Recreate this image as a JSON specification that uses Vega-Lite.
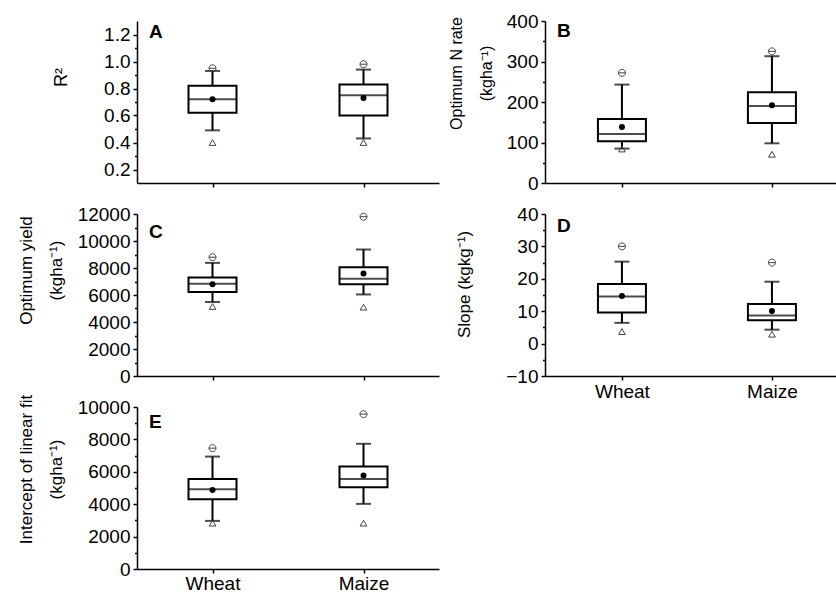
{
  "$schema": "https://vega.github.io/schema/vega-lite/v6.json",
  "padding": {"left": 16, "top": 12, "right": 0, "bottom": 0},
  "background": "white",
  "data": {"values": [
    {"panel": "A", "crop": "Wheat", "lo": 0.49, "q1": 0.62, "med": 0.72, "q3": 0.82, "hi": 0.93, "mean": 0.72, "min": 0.40, "max": 0.95},
    {"panel": "A", "crop": "Maize", "lo": 0.43, "q1": 0.60, "med": 0.75, "q3": 0.83, "hi": 0.94, "mean": 0.73, "min": 0.40, "max": 0.98},
    {"panel": "B", "crop": "Wheat", "lo": 85, "q1": 103, "med": 121, "q3": 158, "hi": 243, "mean": 138, "min": 84, "max": 272},
    {"panel": "B", "crop": "Maize", "lo": 98, "q1": 148, "med": 190, "q3": 224, "hi": 313, "mean": 192, "min": 71, "max": 325},
    {"panel": "C", "crop": "Wheat", "lo": 5480, "q1": 6220, "med": 6840, "q3": 7290, "hi": 8380, "mean": 6800, "min": 5150, "max": 8800},
    {"panel": "C", "crop": "Maize", "lo": 6040, "q1": 6790, "med": 7210, "q3": 8050, "hi": 9370, "mean": 7600, "min": 5100, "max": 11800},
    {"panel": "D", "crop": "Wheat", "lo": 6.4, "q1": 9.6, "med": 14.5, "q3": 18.4, "hi": 25.3, "mean": 14.7, "min": 3.7, "max": 30},
    {"panel": "D", "crop": "Maize", "lo": 4.3, "q1": 7.2, "med": 8.7, "q3": 12.2, "hi": 19.1, "mean": 10.1, "min": 2.9, "max": 25},
    {"panel": "E", "crop": "Wheat", "lo": 2970, "q1": 4310, "med": 4930, "q3": 5560, "hi": 6940, "mean": 4880, "min": 2830, "max": 7460},
    {"panel": "E", "crop": "Maize", "lo": 4020, "q1": 5050, "med": 5550, "q3": 6320, "hi": 7730, "mean": 5770, "min": 2830, "max": 9560}
  ]},
  "columns": 2,
  "bounds": "flush",
  "spacing": {"row": 31, "column": 106},
  "concat": [
    {
      "width": 302, "height": 162,
      "title": {"text": "A", "anchor": "start", "frame": "group", "dx": 12, "offset": 0, "dy": 36, "baseline": "alphabetic", "fontSize": 19, "fontWeight": "bold"},
      "transform": [{"filter": "datum.panel === 'A'"}],
      "encoding": {"x": {"field": "crop", "type": "nominal", "sort": ["Wheat", "Maize"], "scale": {"type": "point", "padding": 0.5}, "axis": {"title": null, "labels": false}}},
      "layer": [
        {"layer": [
          {"mark": {"type": "rule", "strokeWidth": 2, "color": "black"}, "encoding": {"y": {"field": "lo", "type": "quantitative", "scale": {"domain": [0.1, 1.3], "nice": false, "zero": false}, "axis": {"title": "R²", "titleFontSize": 18, "titleX": -67, "titleY": 56, "values": [0.2, 0.4, 0.6, 0.8, 1.0, 1.2], "tickCount": 50, "format": ".1f", "labelOverlap": false}}, "y2": {"field": "hi"}}},
          {"mark": {"type": "bar", "size": 48, "fill": "white", "stroke": "black", "strokeWidth": 2}, "encoding": {"y": {"field": "q1", "type": "quantitative"}, "y2": {"field": "q3"}}},
          {"mark": {"type": "tick", "size": 48, "thickness": 2, "color": "black"}, "encoding": {"y": {"field": "med", "type": "quantitative"}}},
          {"mark": {"type": "tick", "size": 15, "thickness": 2, "color": "black"}, "encoding": {"y": {"field": "lo", "type": "quantitative"}}},
          {"mark": {"type": "tick", "size": 15, "thickness": 2, "color": "black"}, "encoding": {"y": {"field": "hi", "type": "quantitative"}}},
          {"mark": {"type": "point", "filled": true, "color": "black", "size": 36, "opacity": 1}, "encoding": {"y": {"field": "mean", "type": "quantitative"}}},
          {"mark": {"type": "point", "shape": "M-1,0A1,1 0 1,1 1,0A1,1 0 1,1 -1,0ZM-1,0L1,0", "filled": false, "color": "#444", "size": 49, "strokeWidth": 1, "opacity": 1}, "encoding": {"y": {"field": "max", "type": "quantitative"}}},
          {"mark": {"type": "point", "shape": "triangle-up", "filled": false, "color": "#444", "size": 45, "strokeWidth": 1, "opacity": 1}, "encoding": {"y": {"field": "min", "type": "quantitative"}}}
        ]},
        {"mark": {"type": "point", "opacity": 0}, "encoding": {"y": {"field": "med", "type": "quantitative", "axis": {"orient": "left", "values": [0.3, 0.5, 0.7, 0.9, 1.1], "tickCount": 50, "labels": false, "domain": false, "tickSize": 2.5, "title": null}}}}
      ],
      "resolve": {"axis": {"y": "independent"}}
    },
    {
      "width": 293, "height": 162,
      "title": {"text": "B", "anchor": "start", "frame": "group", "dx": 12, "offset": 0, "dy": 44, "baseline": "alphabetic", "fontSize": 19, "fontWeight": "bold"},
      "transform": [{"filter": "datum.panel === 'B'"}],
      "encoding": {"x": {"field": "crop", "type": "nominal", "sort": ["Wheat", "Maize"], "scale": {"type": "point", "padding": 0.4767, "align": 0.538}, "axis": {"title": null, "labels": false}}},
      "layer": [
        {"layer": [
          {"mark": {"type": "rule", "strokeWidth": 2, "color": "black"}, "encoding": {"y": {"field": "lo", "type": "quantitative", "scale": {"domain": [0, 400], "nice": false, "zero": false}, "axis": {"title": ["Optimum N rate", "(kgha⁻¹)"], "titleFontSize": 16, "titleX": -81, "titleY": 52, "values": [0, 100, 200, 300, 400], "tickCount": 50, "labelOverlap": false}}, "y2": {"field": "hi"}}},
          {"mark": {"type": "bar", "size": 48, "fill": "white", "stroke": "black", "strokeWidth": 2}, "encoding": {"y": {"field": "q1", "type": "quantitative"}, "y2": {"field": "q3"}}},
          {"mark": {"type": "tick", "size": 48, "thickness": 2, "color": "black"}, "encoding": {"y": {"field": "med", "type": "quantitative"}}},
          {"mark": {"type": "tick", "size": 15, "thickness": 2, "color": "black"}, "encoding": {"y": {"field": "lo", "type": "quantitative"}}},
          {"mark": {"type": "tick", "size": 15, "thickness": 2, "color": "black"}, "encoding": {"y": {"field": "hi", "type": "quantitative"}}},
          {"mark": {"type": "point", "filled": true, "color": "black", "size": 36, "opacity": 1}, "encoding": {"y": {"field": "mean", "type": "quantitative"}}},
          {"mark": {"type": "point", "shape": "M-1,0A1,1 0 1,1 1,0A1,1 0 1,1 -1,0ZM-1,0L1,0", "filled": false, "color": "#444", "size": 49, "strokeWidth": 1, "opacity": 1}, "encoding": {"y": {"field": "max", "type": "quantitative"}}},
          {"mark": {"type": "point", "shape": "triangle-up", "filled": false, "color": "#444", "size": 45, "strokeWidth": 1, "opacity": 1}, "encoding": {"y": {"field": "min", "type": "quantitative"}}}
        ]},
        {"mark": {"type": "point", "opacity": 0}, "encoding": {"y": {"field": "med", "type": "quantitative", "axis": {"orient": "left", "values": [50, 150, 250, 350], "tickCount": 50, "labels": false, "domain": false, "tickSize": 2.5, "title": null}}}}
      ],
      "resolve": {"axis": {"y": "independent"}}
    },
    {
      "width": 302, "height": 162,
      "title": {"text": "C", "anchor": "start", "frame": "group", "dx": 12, "offset": 0, "dy": 52, "baseline": "alphabetic", "fontSize": 19, "fontWeight": "bold"},
      "transform": [{"filter": "datum.panel === 'C'"}],
      "encoding": {"x": {"field": "crop", "type": "nominal", "sort": ["Wheat", "Maize"], "scale": {"type": "point", "padding": 0.5}, "axis": {"title": null, "labels": false}}},
      "layer": [
        {"layer": [
          {"mark": {"type": "rule", "strokeWidth": 2, "color": "black"}, "encoding": {"y": {"field": "lo", "type": "quantitative", "scale": {"domain": [0, 12000], "nice": false, "zero": false}, "axis": {"title": ["Optimum yield", "(kgha⁻¹)"], "titleX": -102, "titleY": 56, "values": [0, 2000, 4000, 6000, 8000, 10000, 12000], "tickCount": 50, "format": "d", "labelOverlap": false}}, "y2": {"field": "hi"}}},
          {"mark": {"type": "bar", "size": 48, "fill": "white", "stroke": "black", "strokeWidth": 2}, "encoding": {"y": {"field": "q1", "type": "quantitative"}, "y2": {"field": "q3"}}},
          {"mark": {"type": "tick", "size": 48, "thickness": 2, "color": "black"}, "encoding": {"y": {"field": "med", "type": "quantitative"}}},
          {"mark": {"type": "tick", "size": 15, "thickness": 2, "color": "black"}, "encoding": {"y": {"field": "lo", "type": "quantitative"}}},
          {"mark": {"type": "tick", "size": 15, "thickness": 2, "color": "black"}, "encoding": {"y": {"field": "hi", "type": "quantitative"}}},
          {"mark": {"type": "point", "filled": true, "color": "black", "size": 36, "opacity": 1}, "encoding": {"y": {"field": "mean", "type": "quantitative"}}},
          {"mark": {"type": "point", "shape": "M-1,0A1,1 0 1,1 1,0A1,1 0 1,1 -1,0ZM-1,0L1,0", "filled": false, "color": "#444", "size": 49, "strokeWidth": 1, "opacity": 1}, "encoding": {"y": {"field": "max", "type": "quantitative"}}},
          {"mark": {"type": "point", "shape": "triangle-up", "filled": false, "color": "#444", "size": 45, "strokeWidth": 1, "opacity": 1}, "encoding": {"y": {"field": "min", "type": "quantitative"}}}
        ]},
        {"mark": {"type": "point", "opacity": 0}, "encoding": {"y": {"field": "med", "type": "quantitative", "axis": {"orient": "left", "values": [1000, 3000, 5000, 7000, 9000, 11000], "tickCount": 50, "labels": false, "domain": false, "tickSize": 2.5, "title": null}}}}
      ],
      "resolve": {"axis": {"y": "independent"}}
    },
    {
      "width": 293, "height": 162,
      "title": {"text": "D", "anchor": "start", "frame": "group", "dx": 12, "offset": 0, "dy": 46, "baseline": "alphabetic", "fontSize": 19, "fontWeight": "bold"},
      "transform": [{"filter": "datum.panel === 'D'"}],
      "encoding": {"x": {"field": "crop", "type": "nominal", "sort": ["Wheat", "Maize"], "scale": {"type": "point", "padding": 0.4767, "align": 0.538}, "axis": {"title": null, "labels": true, "labelAngle": 0, "labelPadding": 2}}},
      "layer": [
        {"layer": [
          {"mark": {"type": "rule", "strokeWidth": 2, "color": "black"}, "encoding": {"y": {"field": "lo", "type": "quantitative", "scale": {"domain": [-10, 40], "nice": false, "zero": false}, "axis": {"title": "Slope (kgkg⁻¹)", "titleX": -72, "titleY": 70, "values": [-10, 0, 10, 20, 30, 40], "tickCount": 50, "labelOverlap": false}}, "y2": {"field": "hi"}}},
          {"mark": {"type": "bar", "size": 48, "fill": "white", "stroke": "black", "strokeWidth": 2}, "encoding": {"y": {"field": "q1", "type": "quantitative"}, "y2": {"field": "q3"}}},
          {"mark": {"type": "tick", "size": 48, "thickness": 2, "color": "black"}, "encoding": {"y": {"field": "med", "type": "quantitative"}}},
          {"mark": {"type": "tick", "size": 15, "thickness": 2, "color": "black"}, "encoding": {"y": {"field": "lo", "type": "quantitative"}}},
          {"mark": {"type": "tick", "size": 15, "thickness": 2, "color": "black"}, "encoding": {"y": {"field": "hi", "type": "quantitative"}}},
          {"mark": {"type": "point", "filled": true, "color": "black", "size": 36, "opacity": 1}, "encoding": {"y": {"field": "mean", "type": "quantitative"}}},
          {"mark": {"type": "point", "shape": "M-1,0A1,1 0 1,1 1,0A1,1 0 1,1 -1,0ZM-1,0L1,0", "filled": false, "color": "#444", "size": 49, "strokeWidth": 1, "opacity": 1}, "encoding": {"y": {"field": "max", "type": "quantitative"}}},
          {"mark": {"type": "point", "shape": "triangle-up", "filled": false, "color": "#444", "size": 45, "strokeWidth": 1, "opacity": 1}, "encoding": {"y": {"field": "min", "type": "quantitative"}}}
        ]},
        {"mark": {"type": "point", "opacity": 0}, "encoding": {"y": {"field": "med", "type": "quantitative", "axis": {"orient": "left", "values": [-5, 5, 15, 25, 35], "tickCount": 50, "labels": false, "domain": false, "tickSize": 2.5, "title": null}}}}
      ],
      "resolve": {"axis": {"y": "independent"}}
    },
    {
      "width": 302, "height": 162,
      "title": {"text": "E", "anchor": "start", "frame": "group", "dx": 12, "offset": 0, "dy": 53, "baseline": "alphabetic", "fontSize": 19, "fontWeight": "bold"},
      "transform": [{"filter": "datum.panel === 'E'"}],
      "encoding": {"x": {"field": "crop", "type": "nominal", "sort": ["Wheat", "Maize"], "scale": {"type": "point", "padding": 0.5}, "axis": {"title": null, "labels": true, "labelAngle": 0, "labelPadding": 1}}},
      "layer": [
        {"layer": [
          {"mark": {"type": "rule", "strokeWidth": 2, "color": "black"}, "encoding": {"y": {"field": "lo", "type": "quantitative", "scale": {"domain": [0, 10000], "nice": false, "zero": false}, "axis": {"title": ["Intercept of linear fit", "(kgha⁻¹)"], "titleX": -102, "titleY": 62, "values": [0, 2000, 4000, 6000, 8000, 10000], "tickCount": 50, "format": "d", "labelOverlap": false}}, "y2": {"field": "hi"}}},
          {"mark": {"type": "bar", "size": 48, "fill": "white", "stroke": "black", "strokeWidth": 2}, "encoding": {"y": {"field": "q1", "type": "quantitative"}, "y2": {"field": "q3"}}},
          {"mark": {"type": "tick", "size": 48, "thickness": 2, "color": "black"}, "encoding": {"y": {"field": "med", "type": "quantitative"}}},
          {"mark": {"type": "tick", "size": 15, "thickness": 2, "color": "black"}, "encoding": {"y": {"field": "lo", "type": "quantitative"}}},
          {"mark": {"type": "tick", "size": 15, "thickness": 2, "color": "black"}, "encoding": {"y": {"field": "hi", "type": "quantitative"}}},
          {"mark": {"type": "point", "filled": true, "color": "black", "size": 36, "opacity": 1}, "encoding": {"y": {"field": "mean", "type": "quantitative"}}},
          {"mark": {"type": "point", "shape": "M-1,0A1,1 0 1,1 1,0A1,1 0 1,1 -1,0ZM-1,0L1,0", "filled": false, "color": "#444", "size": 49, "strokeWidth": 1, "opacity": 1}, "encoding": {"y": {"field": "max", "type": "quantitative"}}},
          {"mark": {"type": "point", "shape": "triangle-up", "filled": false, "color": "#444", "size": 45, "strokeWidth": 1, "opacity": 1}, "encoding": {"y": {"field": "min", "type": "quantitative"}}}
        ]},
        {"mark": {"type": "point", "opacity": 0}, "encoding": {"y": {"field": "med", "type": "quantitative", "axis": {"orient": "left", "values": [1000, 3000, 5000, 7000, 9000], "tickCount": 50, "labels": false, "domain": false, "tickSize": 2.5, "title": null}}}}
      ],
      "resolve": {"axis": {"y": "independent"}}
    }
  ],
  "config": {
    "font": "Liberation Sans",
    "view": {"stroke": null},
    "title": {"color": "black", "font": "Liberation Sans"},
    "axis": {
      "grid": false,
      "domainColor": "black", "domainWidth": 1.5,
      "tickColor": "black", "tickWidth": 1.5, "tickSize": 4,
      "labelColor": "black", "labelFontSize": 19, "labelPadding": 3, "labelFont": "Liberation Sans", "labelOverlap": false, "labelAngle": 0,
      "titleColor": "black", "titleFontSize": 17, "titleFontWeight": "normal", "titleFont": "Liberation Sans", "titleLineHeight": 30
    }
  }
}
